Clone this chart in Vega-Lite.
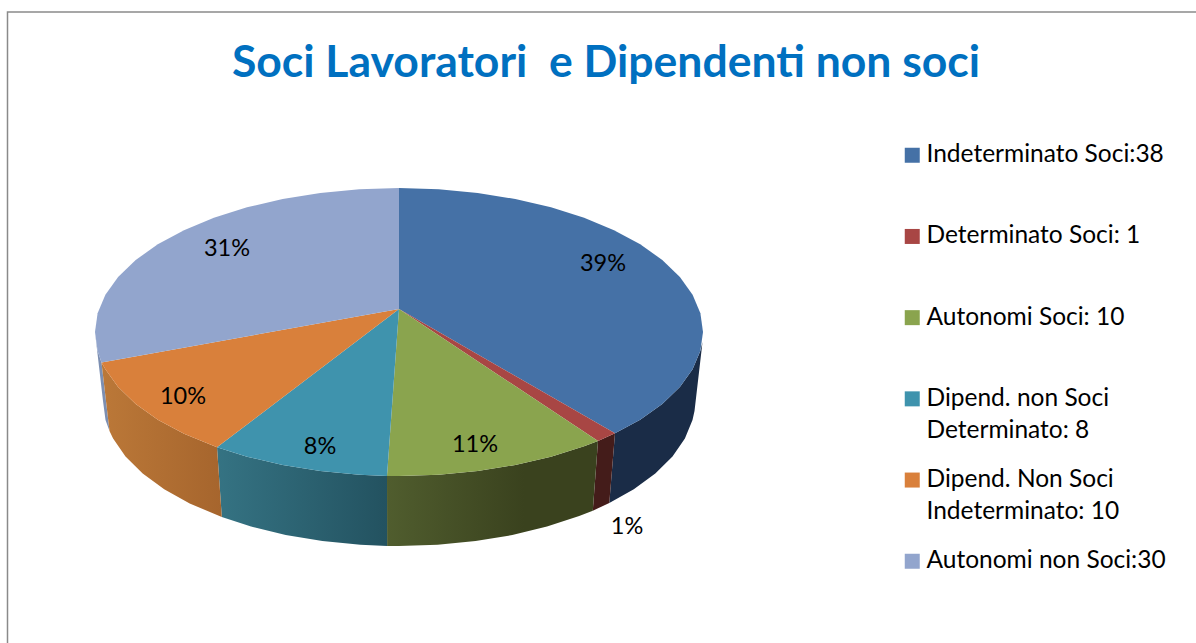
{"$schema":"https://vega.github.io/schema/vega-lite/v6.json","width":1196,"height":643,"padding":0,"autosize":"none","background":"white",
"title":{"text":"Soci Lavoratori \u00a0e Dipendenti non soci","font":"Lato","fontWeight":"bold","fontSize":44.5,"color":"#0070c0","anchor":"middle","frame":"group","dx":8,"dy":121,"offset":0,"baseline":"alphabetic"},
"config":{"view":{"stroke":null},"style":{"guide-label":{"lineHeight":32}}},
"datasets":{
"cornice":[{"n":1,"x":7.5,"y":643},{"n":2,"x":7.5,"y":12},{"n":3,"x":1196,"y":12}],
"etichette":[{"t":"39%","x":603,"y":264},{"t":"1%","x":627,"y":527},{"t":"11%","x":475,"y":444.5},{"t":"8%","x":320,"y":447},{"t":"10%","x":183,"y":396.5},{"t":"31%","x":227,"y":249}],
"lati":[
{"fetta":"blu","n":1,"x":702.5,"y":342},{"fetta":"blu","n":2,"x":700.4,"y":350.8},{"fetta":"blu","n":3,"x":692.6,"y":369.3},{"fetta":"blu","n":4,"x":679.9,"y":387.1},{"fetta":"blu","n":5,"x":662.3,"y":404},{"fetta":"blu","n":6,"x":640.2,"y":419.7},{"fetta":"blu","n":7,"x":615,"y":433.3},{"fetta":"blu","n":8,"x":609.3,"y":503},{"fetta":"blu","n":9,"x":633.8,"y":489.3},{"fetta":"blu","n":10,"x":655.3,"y":473.5},{"fetta":"blu","n":11,"x":672.5,"y":456.5},{"fetta":"blu","n":12,"x":684.9,"y":438.5},{"fetta":"blu","n":13,"x":692.5,"y":419.9},{"fetta":"blu","n":14,"x":694.5,"y":411},
{"fetta":"rosso","n":1,"x":615,"y":433.3},{"fetta":"rosso","n":2,"x":598,"y":441},{"fetta":"rosso","n":3,"x":592.8,"y":510.7},{"fetta":"rosso","n":4,"x":609.3,"y":503},
{"fetta":"verde","n":1,"x":598,"y":441},{"fetta":"verde","n":2,"x":584.1,"y":446.2},{"fetta":"verde","n":3,"x":551,"y":456.7},{"fetta":"verde","n":4,"x":515.3,"y":465},{"fetta":"verde","n":5,"x":477.7,"y":471.1},{"fetta":"verde","n":6,"x":438.7,"y":474.8},{"fetta":"verde","n":7,"x":399,"y":476},{"fetta":"verde","n":8,"x":387,"y":476},{"fetta":"verde","n":9,"x":387.1,"y":545.9},{"fetta":"verde","n":10,"x":399,"y":546},{"fetta":"verde","n":11,"x":437.6,"y":544.8},{"fetta":"verde","n":12,"x":475.6,"y":541.1},{"fetta":"verde","n":13,"x":512.3,"y":535},{"fetta":"verde","n":14,"x":547,"y":526.6},{"fetta":"verde","n":15,"x":579.2,"y":516},{"fetta":"verde","n":16,"x":592.8,"y":510.7},
{"fetta":"teal","n":1,"x":387,"y":476},{"fetta":"teal","n":2,"x":359.3,"y":474.8},{"fetta":"teal","n":3,"x":320.3,"y":471.1},{"fetta":"teal","n":4,"x":282.7,"y":465},{"fetta":"teal","n":5,"x":247,"y":456.7},{"fetta":"teal","n":6,"x":217,"y":447.3},{"fetta":"teal","n":7,"x":221.8,"y":517},{"fetta":"teal","n":8,"x":251,"y":526.6},{"fetta":"teal","n":9,"x":285.7,"y":535},{"fetta":"teal","n":10,"x":322.4,"y":541.1},{"fetta":"teal","n":11,"x":360.4,"y":544.8},{"fetta":"teal","n":12,"x":387.1,"y":545.9},
{"fetta":"arancio","n":1,"x":217,"y":447.3},{"fetta":"arancio","n":2,"x":184,"y":433.8},{"fetta":"arancio","n":3,"x":157.8,"y":419.7},{"fetta":"arancio","n":4,"x":135.7,"y":404},{"fetta":"arancio","n":5,"x":118.1,"y":387.1},{"fetta":"arancio","n":6,"x":105.4,"y":369.3},{"fetta":"arancio","n":7,"x":101.5,"y":362.5},{"fetta":"arancio","n":8,"x":109.5,"y":431},{"fetta":"arancio","n":9,"x":113.1,"y":438.5},{"fetta":"arancio","n":10,"x":125.5,"y":456.5},{"fetta":"arancio","n":11,"x":142.7,"y":473.5},{"fetta":"arancio","n":12,"x":164.2,"y":489.3},{"fetta":"arancio","n":13,"x":189.7,"y":503.5},{"fetta":"arancio","n":14,"x":221.8,"y":517},
{"fetta":"lilla","n":1,"x":101.5,"y":362.5},{"fetta":"lilla","n":2,"x":97.6,"y":350.8},{"fetta":"lilla","n":3,"x":95,"y":332},{"fetta":"lilla","n":4,"x":103,"y":401},{"fetta":"lilla","n":5,"x":105.5,"y":419.9},{"fetta":"lilla","n":6,"x":109.5,"y":431}
],
"facce":[
{"fetta":"Indeterminato Soci:38","n":0,"x":399,"y":309},{"fetta":"Indeterminato Soci:38","n":1,"x":399,"y":188},{"fetta":"Indeterminato Soci:38","n":2,"x":438.7,"y":189.2},{"fetta":"Indeterminato Soci:38","n":3,"x":477.7,"y":192.9},{"fetta":"Indeterminato Soci:38","n":4,"x":515.3,"y":199},{"fetta":"Indeterminato Soci:38","n":5,"x":551,"y":207.3},{"fetta":"Indeterminato Soci:38","n":6,"x":584.1,"y":217.8},{"fetta":"Indeterminato Soci:38","n":7,"x":614,"y":230.2},{"fetta":"Indeterminato Soci:38","n":8,"x":640.2,"y":244.3},{"fetta":"Indeterminato Soci:38","n":9,"x":662.3,"y":260},{"fetta":"Indeterminato Soci:38","n":10,"x":679.9,"y":276.9},{"fetta":"Indeterminato Soci:38","n":11,"x":692.6,"y":294.7},{"fetta":"Indeterminato Soci:38","n":12,"x":700.4,"y":313.2},{"fetta":"Indeterminato Soci:38","n":13,"x":703,"y":332},{"fetta":"Indeterminato Soci:38","n":14,"x":700.4,"y":350.8},{"fetta":"Indeterminato Soci:38","n":15,"x":692.6,"y":369.3},{"fetta":"Indeterminato Soci:38","n":16,"x":679.9,"y":387.1},{"fetta":"Indeterminato Soci:38","n":17,"x":662.3,"y":404},{"fetta":"Indeterminato Soci:38","n":18,"x":640.2,"y":419.7},{"fetta":"Indeterminato Soci:38","n":19,"x":615,"y":433.3},
{"fetta":"Determinato Soci: 1","n":0,"x":399,"y":309},{"fetta":"Determinato Soci: 1","n":1,"x":615,"y":433.3},{"fetta":"Determinato Soci: 1","n":2,"x":598,"y":441},
{"fetta":"Autonomi Soci: 10","n":0,"x":399,"y":309},{"fetta":"Autonomi Soci: 10","n":1,"x":598,"y":441},{"fetta":"Autonomi Soci: 10","n":2,"x":584.1,"y":446.2},{"fetta":"Autonomi Soci: 10","n":3,"x":551,"y":456.7},{"fetta":"Autonomi Soci: 10","n":4,"x":515.3,"y":465},{"fetta":"Autonomi Soci: 10","n":5,"x":477.7,"y":471.1},{"fetta":"Autonomi Soci: 10","n":6,"x":438.7,"y":474.8},{"fetta":"Autonomi Soci: 10","n":7,"x":399,"y":476},{"fetta":"Autonomi Soci: 10","n":8,"x":387,"y":476},
{"fetta":"Dipend. non Soci Determinato: 8","n":0,"x":399,"y":309},{"fetta":"Dipend. non Soci Determinato: 8","n":1,"x":387,"y":476},{"fetta":"Dipend. non Soci Determinato: 8","n":2,"x":359.3,"y":474.8},{"fetta":"Dipend. non Soci Determinato: 8","n":3,"x":320.3,"y":471.1},{"fetta":"Dipend. non Soci Determinato: 8","n":4,"x":282.7,"y":465},{"fetta":"Dipend. non Soci Determinato: 8","n":5,"x":247,"y":456.7},{"fetta":"Dipend. non Soci Determinato: 8","n":6,"x":217,"y":447.3},
{"fetta":"Dipend. Non Soci Indeterminato: 10","n":0,"x":399,"y":309},{"fetta":"Dipend. Non Soci Indeterminato: 10","n":1,"x":217,"y":447.3},{"fetta":"Dipend. Non Soci Indeterminato: 10","n":2,"x":184,"y":433.8},{"fetta":"Dipend. Non Soci Indeterminato: 10","n":3,"x":157.8,"y":419.7},{"fetta":"Dipend. Non Soci Indeterminato: 10","n":4,"x":135.7,"y":404},{"fetta":"Dipend. Non Soci Indeterminato: 10","n":5,"x":118.1,"y":387.1},{"fetta":"Dipend. Non Soci Indeterminato: 10","n":6,"x":105.4,"y":369.3},{"fetta":"Dipend. Non Soci Indeterminato: 10","n":7,"x":101.5,"y":362.5},
{"fetta":"Autonomi non Soci:30","n":0,"x":399,"y":309},{"fetta":"Autonomi non Soci:30","n":1,"x":101.5,"y":362.5},{"fetta":"Autonomi non Soci:30","n":2,"x":97.6,"y":350.8},{"fetta":"Autonomi non Soci:30","n":3,"x":95,"y":332},{"fetta":"Autonomi non Soci:30","n":4,"x":97.6,"y":313.2},{"fetta":"Autonomi non Soci:30","n":5,"x":105.4,"y":294.7},{"fetta":"Autonomi non Soci:30","n":6,"x":118.1,"y":276.9},{"fetta":"Autonomi non Soci:30","n":7,"x":135.7,"y":260},{"fetta":"Autonomi non Soci:30","n":8,"x":157.8,"y":244.3},{"fetta":"Autonomi non Soci:30","n":9,"x":184,"y":230.2},{"fetta":"Autonomi non Soci:30","n":10,"x":213.9,"y":217.8},{"fetta":"Autonomi non Soci:30","n":11,"x":247,"y":207.3},{"fetta":"Autonomi non Soci:30","n":12,"x":282.7,"y":199},{"fetta":"Autonomi non Soci:30","n":13,"x":320.3,"y":192.9},{"fetta":"Autonomi non Soci:30","n":14,"x":359.3,"y":189.2},{"fetta":"Autonomi non Soci:30","n":15,"x":399,"y":188}
]},
"encoding":{
"x":{"field":"x","type":"quantitative","axis":null,"scale":{"domain":[0,1196],"nice":false,"zero":false}},
"y":{"field":"y","type":"quantitative","axis":null,"scale":{"domain":[643,0],"nice":false,"zero":false}}
},
"layer":[
{"data":{"name":"cornice"},"mark":{"type":"line","stroke":"#8a8a8a","strokeWidth":1.5,"clip":true},"encoding":{"order":{"field":"n","type":"quantitative"}}},
{"data":{"name":"lati"},"transform":[{"filter":{"field":"fetta","equal":"lilla"}}],"mark":{"type":"line","strokeWidth":0,"fill":"#7c8fb2"},"encoding":{"order":{"field":"n","type":"quantitative"}}},
{"data":{"name":"lati"},"transform":[{"filter":{"field":"fetta","equal":"blu"}}],"mark":{"type":"line","strokeWidth":0,"fill":"#1a2c47"},"encoding":{"order":{"field":"n","type":"quantitative"}}},
{"data":{"name":"lati"},"transform":[{"filter":{"field":"fetta","equal":"rosso"}}],"mark":{"type":"line","strokeWidth":0,"fill":"#441c1a"},"encoding":{"order":{"field":"n","type":"quantitative"}}},
{"data":{"name":"lati"},"transform":[{"filter":{"field":"fetta","equal":"verde"}}],"mark":{"type":"line","strokeWidth":0,"fill":{"gradient":"linear","x1":0,"x2":1,"y1":0,"y2":0,"stops":[{"offset":0,"color":"#505d2e"},{"offset":0.65,"color":"#3a421e"},{"offset":1,"color":"#3a421e"}]}},"encoding":{"order":{"field":"n","type":"quantitative"}}},
{"data":{"name":"lati"},"transform":[{"filter":{"field":"fetta","equal":"teal"}}],"mark":{"type":"line","strokeWidth":0,"fill":{"gradient":"linear","x1":0,"x2":1,"y1":0,"y2":0,"stops":[{"offset":0,"color":"#357383"},{"offset":1,"color":"#235260"}]}},"encoding":{"order":{"field":"n","type":"quantitative"}}},
{"data":{"name":"lati"},"transform":[{"filter":{"field":"fetta","equal":"arancio"}}],"mark":{"type":"line","strokeWidth":0,"fill":{"gradient":"linear","x1":0,"x2":1,"y1":0,"y2":0,"stops":[{"offset":0,"color":"#bb7838"},{"offset":1,"color":"#a6652d"}]}},"encoding":{"order":{"field":"n","type":"quantitative"}}},
{"data":{"name":"facce"},"mark":{"type":"line","strokeWidth":0},"encoding":{"order":{"field":"n","type":"quantitative"},
"fill":{"field":"fetta","type":"nominal","sort":null,"scale":{"domain":["Indeterminato Soci:38","Determinato Soci: 1","Autonomi Soci: 10","Dipend. non Soci Determinato: 8","Dipend. Non Soci Indeterminato: 10","Autonomi non Soci:30"],"range":["#4571a6","#a84644","#8aa44e","#3f93ad","#d9803b","#92a5cd"]},
"legend":{"title":null,"orient":"none","legendX":900,"legendY":143,"padding":0,"symbolType":"square","symbolSize":225,"symbolStrokeWidth":0,"labelFont":"Lato","labelFontSize":24.5,"labelColor":"#000000","labelLimit":400,"labelOffset":2,"rowPadding":24.2,"gridAlign":"all","labelExpr":"split(replace(replace(datum.label,'Soci Det','Soci|Det'),'Soci Ind','Soci|Ind'),'|')"}}}},
{"data":{"name":"etichette"},"mark":{"type":"text","font":"Lato","fontSize":23.5,"color":"#000000","align":"center","baseline":"middle"},"encoding":{"text":{"field":"t","type":"nominal"}}}
]}
